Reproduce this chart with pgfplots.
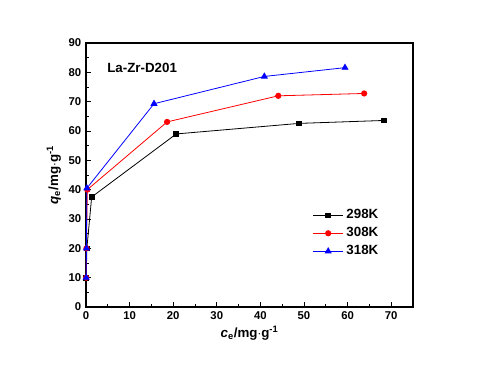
\documentclass[border=0pt]{standalone}
\usepackage{pgfplots}
\pgfplotsset{compat=1.18}
\usepackage{fontspec}
\setmainfont{Liberation Sans}
\begin{document}
\begin{tikzpicture}
\useasboundingbox (0,0) rectangle (361.5pt,278.25pt);
\begin{axis}[
  at={(64.5pt,48pt)}, anchor=south west,
  scale only axis, width=245.25pt, height=198pt,
  xmin=0, xmax=75, ymin=0, ymax=90,
  xtick={0,10,...,70}, ytick={0,10,...,90},
  minor xtick={5,15,...,75}, minor ytick={5,15,...,85},
  tick pos=left, tick align=inside,
  major tick length=3.5pt, minor tick length=2pt,
  every tick/.style={black, line width=0.6pt},
  axis line style={line width=0.8pt},
  /pgf/number format/assume math mode=true,
  tick label style={font=\fontsize{8.5}{10}\selectfont\bfseries},
  xlabel={\bfseries\itshape c\textsubscript{\upshape e}\upshape/mg$\cdot$g\textsuperscript{-1}},
  ylabel={\bfseries\itshape q\textsubscript{\upshape e}\upshape/mg$\cdot$g\textsuperscript{-1}},
  label style={font=\fontsize{10}{12}\selectfont},
  xlabel style={yshift=2pt},
  ylabel style={yshift=-1pt},
  legend style={draw=none, fill=none, at={(0.68,0.39)}, anchor=north west,
    font=\fontsize{10}{12}\selectfont\bfseries, row sep=1pt},
  legend cell align=left,
  legend image code/.code={
    \draw[mark repeat=2,mark phase=2] plot coordinates {(0cm,0cm) (0.4cm,0cm) (0.8cm,0cm)};},
  every axis plot/.append style={line width=0.6pt},
]
\addplot[black, mark=square*, mark size=1.8pt] coordinates {
(0.05,10) (0.2,20) (1.3,37.5) (20.7,59) (48.9,62.6) (68.4,63.6)};
\addlegendentry{298K}
\addplot[red, mark=*, mark size=2pt, mark options={fill=red}] coordinates {
(0.05,10) (0.1,20) (0.3,40) (18.6,63.1) (44.1,72.0) (63.8,72.8)};
\addlegendentry{308K}
\addplot[blue, mark=triangle*, mark size=2.5pt, mark options={fill=blue}] coordinates {
(0.05,10) (0.1,20) (0.2,40.5) (15.6,69.3) (40.9,78.6) (59.4,81.6)};
\addlegendentry{318K}
\node[anchor=west, font=\fontsize{10}{12}\selectfont\bfseries] at (axis cs:3.8,81.5) {La-Zr-D201};
\end{axis}
\end{tikzpicture}
\end{document}
